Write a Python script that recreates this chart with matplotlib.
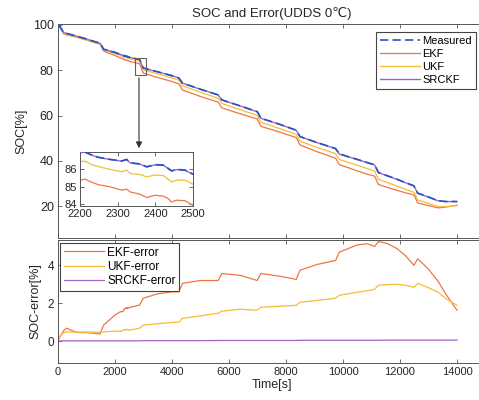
import matplotlib
matplotlib.use("Agg")

import matplotlib.pyplot as plt
import numpy as np
from matplotlib.patches import Rectangle, FancyArrowPatch

plt.rcParams["font.family"] = ["Liberation Sans", "DejaVu Sans"]

# common time grid [s]
time_s = [
    0, 60, 200, 300, 500, 700, 1000, 1480, 1600, 2000,
    2200, 2213, 2231, 2249, 2280, 2311, 2324, 2333, 2359, 2377,
    2399, 2421, 2434, 2443, 2457, 2479, 2500,
    2860, 2990, 3500, 4000, 4240, 4370, 5000, 5620, 5750, 6400,
    6990, 7120, 7800, 8360, 8490, 9100, 9740, 9870, 10500, 10850,
    11110, 11240, 11550, 11900, 12200, 12490, 12620, 13000, 13340, 13600, 14000,
]

soc_measured = [
    100.0, 99.5, 96.6, 96.3, 95.6, 94.9, 93.8, 91.9, 89.3, 87.9,
    86.93, 86.97, 86.80, 86.67, 86.55, 86.46, 86.55, 86.36, 86.29, 86.13,
    86.25, 86.23, 86.04, 85.90, 85.98, 85.94, 85.71,
    84.8, 81.0, 79.3, 77.6, 76.6, 74.3, 71.6, 69.1, 66.9, 64.2,
    61.7, 58.8, 56.0, 53.5, 50.7, 48.0, 45.4, 43.0, 40.6, 39.2,
    38.2, 34.8, 33.4, 31.8, 30.3, 28.9, 25.7, 24.0, 22.3, 22.0, 22.0,
]

# error = measured - estimated [%]
ekf_error = [
    0.0, 0.2, 0.55, 0.68, 0.55, 0.45, 0.45, 0.38, 0.85, 1.37,
    1.56, 1.54, 1.55, 1.56, 1.56, 1.66, 1.69, 1.66, 1.72, 1.75,
    1.74, 1.77, 1.72, 1.77, 1.75, 1.74, 1.77,
    1.9, 2.26, 2.5, 2.6, 2.6, 3.05, 3.2, 3.2, 3.57, 3.47,
    3.2, 3.57, 3.42, 3.26, 3.74, 4.05, 4.26, 4.7, 5.08, 5.14,
    5.0, 5.26, 5.16, 4.88, 4.5, 4.0, 4.35, 3.8, 3.15, 2.5, 1.63,
]

ukf_error = [
    0.0, 0.25, 0.45, 0.48, 0.48, 0.47, 0.47, 0.47, 0.48, 0.53,
    0.51, 0.52, 0.55, 0.53, 0.57, 0.61, 0.61, 0.61, 0.60, 0.57,
    0.59, 0.60, 0.62, 0.63, 0.61, 0.57, 0.57,
    0.68, 0.84, 0.92, 0.98, 1.0, 1.2, 1.33, 1.47, 1.58, 1.68,
    1.63, 1.79, 1.84, 1.89, 2.05, 2.15, 2.26, 2.42, 2.58, 2.66,
    2.73, 2.95, 2.98, 3.0, 2.95, 2.84, 3.05, 2.82, 2.58, 2.25, 1.89,
]

srckf_error = [
    0.0, 0.0, 0.01, 0.01, 0.01, 0.01, 0.01, 0.01, 0.01, 0.01,
    0.01, 0.01, 0.01, 0.01, 0.01, 0.01, 0.01, 0.01, 0.01, 0.01,
    0.01, 0.01, 0.01, 0.01, 0.01, 0.01, 0.01,
    0.01, 0.02, 0.02, 0.02, 0.02, 0.02, 0.02, 0.03, 0.03, 0.03,
    0.03, 0.03, 0.03, 0.03, 0.04, 0.04, 0.04, 0.04, 0.04, 0.04,
    0.04, 0.04, 0.05, 0.05, 0.05, 0.05, 0.05, 0.05, 0.05, 0.05, 0.05,
]

time_ticks = [0, 2000, 4000, 6000, 8000, 10000, 12000, 14000]

C_MEAS = "#1f55c4"
C_EKF = "#f07545"
C_UKF = "#f6bd35"
C_SRCKF = "#a262c4"
C_AX = "#555555"
C_TXT = "#262626"


def style_axes(ax, ysize=8.5):
    for s in ax.spines.values():
        s.set_color(C_AX)
        s.set_linewidth(0.7)
    ax.tick_params(direction="in", top=True, right=True, length=3,
                   width=0.6, color=C_AX, labelsize=8, labelcolor=C_TXT,
                   pad=3)
    ax.tick_params(axis="y", labelsize=ysize)


t = np.asarray(time_s, dtype=float)
meas = np.asarray(soc_measured)
ekf = meas - np.asarray(ekf_error)
ukf = meas - np.asarray(ukf_error)
srckf = meas - np.asarray(srckf_error)

W, H = 479, 400
fig = plt.figure(figsize=(W / 100, H / 100), dpi=100)


def px_axes(x0, y0, x1, y1):
    return fig.add_axes([x0 / W, 1 - y1 / H, (x1 - x0) / W, (y1 - y0) / H])


def soc_lines(ax):
    ax.plot(t, meas, color=C_MEAS, lw=1.2, ls=(0, (5, 2.5)),
            label="Measured", zorder=4)
    ax.plot(t, ekf, color=C_EKF, lw=0.9, label="EKF", zorder=2)
    ax.plot(t, ukf, color=C_UKF, lw=0.9, label="UKF", zorder=2)
    ax.plot(t, srckf, color=C_SRCKF, lw=1.0, label="SRCKF", zorder=3)


# top: SOC
ax1 = px_axes(58, 24, 485.5, 238)
soc_lines(ax1)
ax1.set_xlim(0, 15000)
ax1.set_ylim(5.86, 100.44)
ax1.set_xticks(time_ticks)
ax1.set_xticklabels([])
ax1.set_yticks([20, 40, 60, 80, 100])
style_axes(ax1, ysize=9)
ax1.set_ylabel("SOC[%]", fontsize=9, color=C_TXT, labelpad=4)
ax1.set_title("SOC and Error(UDDS 0\u2103)", fontsize=9.5, color=C_TXT, pad=5,
              x=(271.7 - 58) / (485.5 - 58))
ax1.add_patch(Rectangle((2700, 77.9), 390, 7.5, fill=False,
                        edgecolor="#606060", lw=0.8, zorder=5))
leg1 = ax1.legend(loc="upper right", bbox_to_anchor=(476 / W, 1 - 32 / H),
                  bbox_transform=fig.transFigure, fontsize=8,
                  handlelength=3.6, handletextpad=0.2, labelspacing=0.28,
                  borderaxespad=0, borderpad=0.35, fancybox=False,
                  framealpha=1)
leg1.get_frame().set_edgecolor("#444444")
leg1.get_frame().set_linewidth(0.8)

# bottom: error
ax2 = px_axes(58, 240, 485.5, 363)
ax2.plot(t, ekf_error, color=C_EKF, lw=0.9, label="EKF-error")
ax2.plot(t, ukf_error, color=C_UKF, lw=0.9, label="UKF-error")
ax2.plot(t, srckf_error, color=C_SRCKF, lw=0.9, label="SRCKF-error")
ax2.set_xlim(0, 15000)
ax2.set_ylim(-1.16, 5.34)
ax2.set_xticks(time_ticks)
ax2.set_yticks([0, 2, 4])
style_axes(ax2, ysize=8.5)
ax2.set_xlabel("Time[s]", fontsize=9, color=C_TXT, labelpad=1,
               x=(272 - 58) / (485.5 - 58))
ax2.set_ylabel("SOC-error[%]", fontsize=9, color=C_TXT, labelpad=4)
leg2 = ax2.legend(loc="upper left", bbox_to_anchor=(60 / W, 1 - 243 / H),
                  bbox_transform=fig.transFigure, fontsize=8.5,
                  handlelength=3.4, handletextpad=0.3, labelspacing=0.2,
                  borderaxespad=0, borderpad=0.3, fancybox=False,
                  framealpha=1)
leg2.get_frame().set_edgecolor("#444444")
leg2.get_frame().set_linewidth(0.8)

# inset zoom
ax3 = px_axes(80, 152, 193, 206)
soc_lines(ax3)
ax3.set_xlim(2200, 2500)
ax3.set_ylim(83.9, 86.97)
ax3.set_xticks([2200, 2300, 2400, 2500])
ax3.set_yticks([84, 85, 86])
style_axes(ax3, ysize=8)
ax3.tick_params(pad=2)

# arrow from box to inset
fig.patches.append(FancyArrowPatch(
    (139 / W, 1 - 75 / H), (139 / W, 1 - 151 / H),
    transform=fig.transFigure, arrowstyle="-|>", mutation_scale=9,
    color="#303030", lw=0.8))

fig.savefig("out.png", dpi=100)
